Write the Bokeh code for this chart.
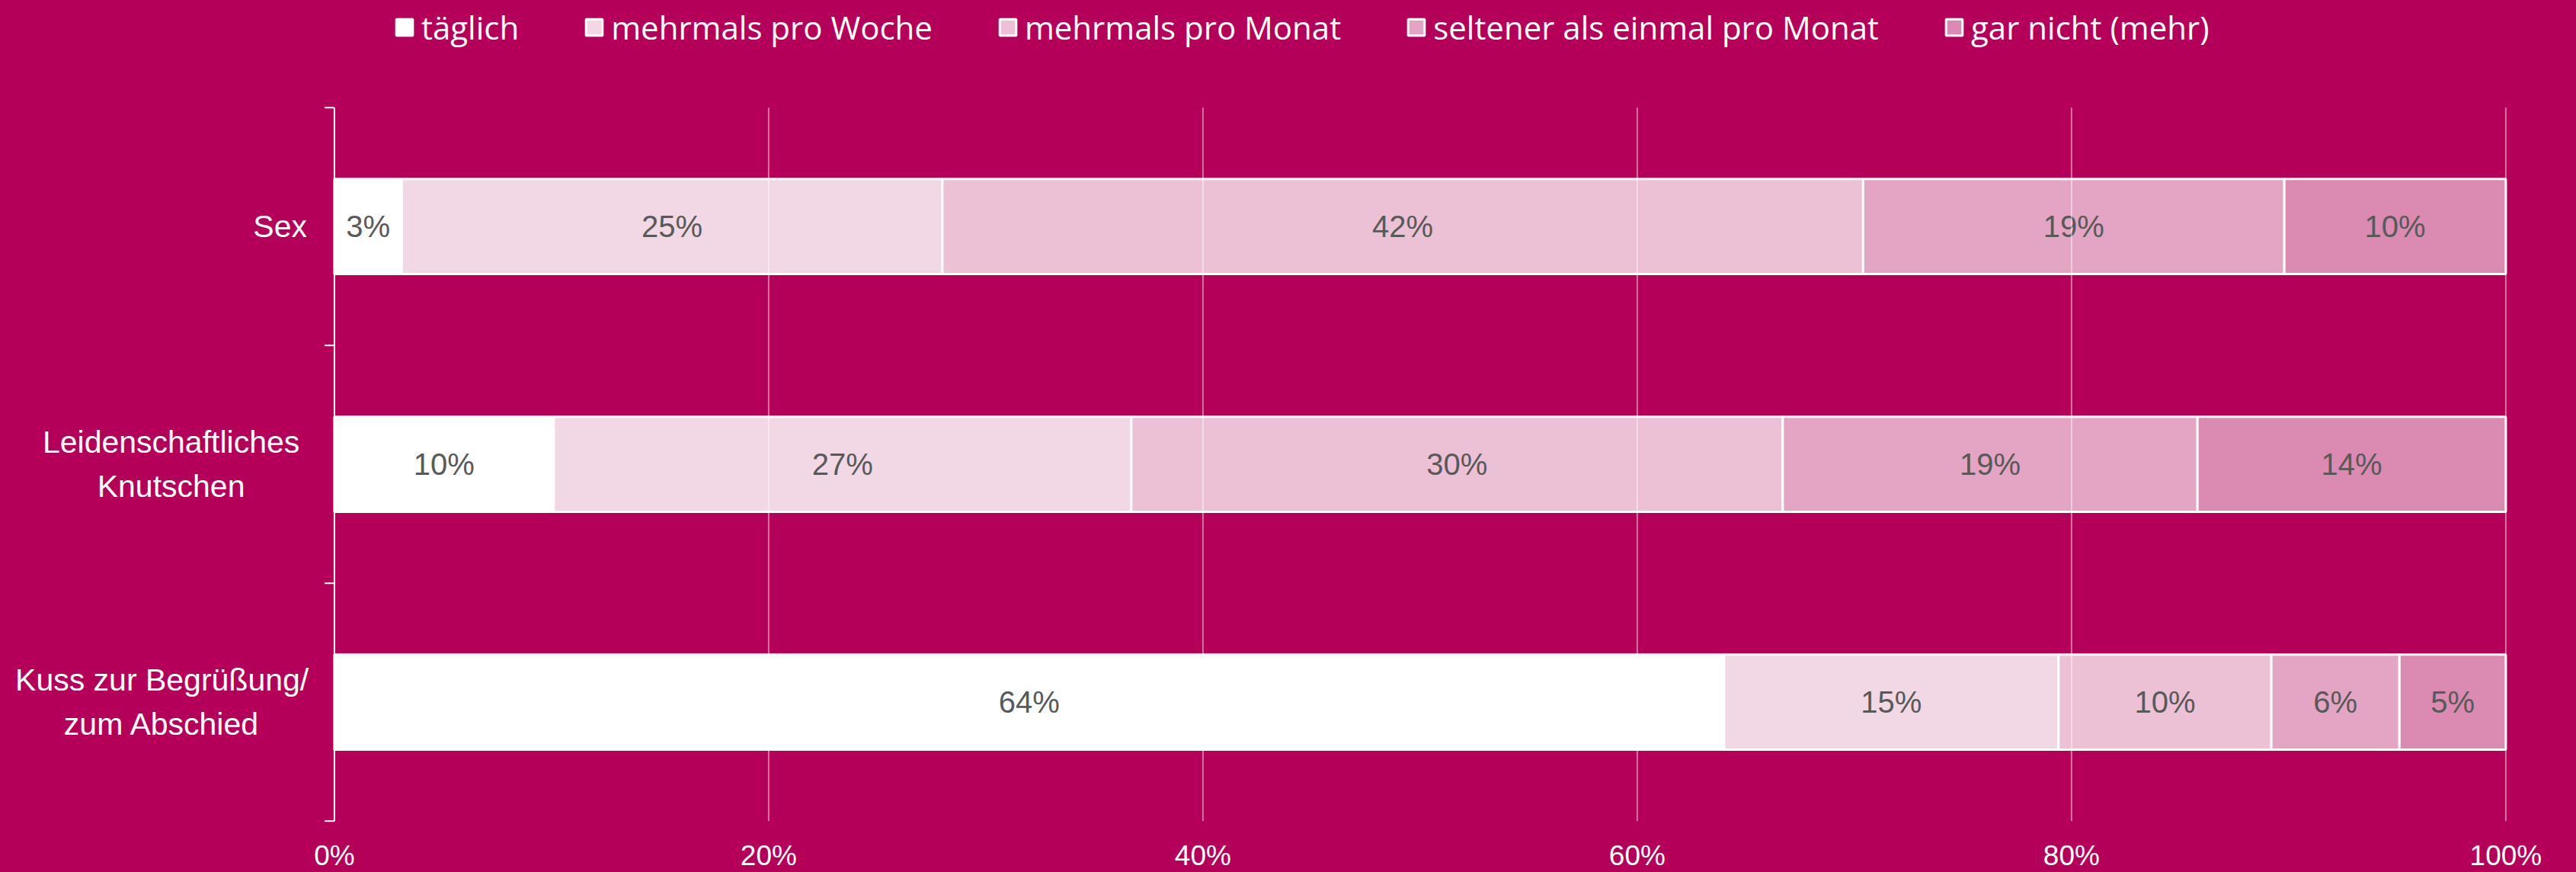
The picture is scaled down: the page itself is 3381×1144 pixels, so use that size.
from bokeh.plotting import figure
from bokeh.models import ColumnDataSource, FixedTicker, Range1d, Legend, LegendItem
from bokeh.embed import file_html
from bokeh.resources import INLINE
from bokeh.core.properties import value

# ---------------- data ----------------
categories = ["Sex", "Leidenschaftliches\nKnutschen", "Kuss zur Begrüßung/\nzum Abschied"]
series = ["täglich", "mehrmals pro Woche", "mehrmals pro Monat",
          "seltener als einmal pro Monat", "gar nicht (mehr)"]
taeglich = [3.1, 10.1, 64.0]
pro_woche = [24.9, 26.6, 15.4]
pro_monat = [42.4, 30.0, 9.8]
seltener = [19.4, 19.1, 5.9]
gar_nicht = [10.2, 14.2, 4.9]
x_ticks = [0, 20, 40, 60, 80, 100]
x_tick_labels = ["0%", "20%", "40%", "60%", "80%", "100%"]

# ---------------- style / layout ----------------
colors = ["#FFFFFF", "#F2D8E4", "#EDC1D5", "#E3A5C3", "#DB8AB1"]
BG = "#B5005A"
LABEL_FONT = "Liberation Sans"
LEGEND_FONT = "Open Sans"
W, H = 3381, 1144
PLOT_LEFT, PLOT_RIGHT, PLOT_TOP, PLOT_BOTTOM = 438.4, 3288.4, 140.7, 1076.7
TICK_LEN = 13
cat_label_x = [-2.50, -7.52, -7.94]   # label centres, in axis units

n = len(categories)
ppu_x = (PLOT_RIGHT - PLOT_LEFT) / 100.0
ppu_y = (PLOT_BOTTOM - PLOT_TOP) / n
x_range = Range1d(-PLOT_LEFT / ppu_x, 100 + (W - PLOT_RIGHT) / ppu_x)
y_range = Range1d(-(H - PLOT_BOTTOM) / ppu_y, n + PLOT_TOP / ppu_y)

p = figure(width=W, height=H, output_backend="svg", toolbar_location=None,
           x_range=x_range, y_range=y_range,
           min_border_left=0, min_border_right=0, min_border_top=0, min_border_bottom=0)
p.background_fill_color = BG
p.border_fill_color = BG
p.outline_line_color = None
p.xgrid.visible = False
p.ygrid.visible = False
p.yaxis.visible = False

ys = [n - i - 0.5 for i in range(n)]
values = [taeglich, pro_woche, pro_monat, seltener, gar_nicht]

left = [0.0] * n
renderers = []
lab_x, lab_y, lab_t = [], [], []
for name, vals, col in zip(series, values, colors):
    right = [l + v for l, v in zip(left, vals)]
    src = ColumnDataSource(dict(y=ys, left=left, right=right))
    r = p.hbar(y="y", left="left", right="right", height=0.40, source=src,
               fill_color=col, line_color="white", line_width=3)
    renderers.append((name, r))
    for l, v, y in zip(left, vals, ys):
        lab_x.append(l + v / 2)
        lab_y.append(y)
        lab_t.append(f"{round(v)}%")
    left = right

p.text(x=lab_x, y=lab_y, text=lab_t, text_align="center", text_baseline="middle",
       text_font=value(LABEL_FONT), text_font_size="40px", text_color="#595959")

# vertical grid lines (on top of bars, like the original)
grid_x = x_ticks[1:]
p.segment(x0=grid_x, y0=[0] * len(grid_x), x1=grid_x, y1=[n] * len(grid_x),
          line_color="white", line_alpha=0.45, line_width=2)

# y axis line and ticks at category boundaries
p.segment(x0=[0], y0=[0], x1=[0], y1=[n], line_color="white", line_width=2)
bounds = list(range(n + 1))
p.segment(x0=[-TICK_LEN / ppu_x] * len(bounds), y0=bounds, x1=[0] * len(bounds), y1=bounds,
          line_color="white", line_width=2)

# category labels
p.text(x=cat_label_x, y=ys, text=categories, text_align="center", text_baseline="middle",
       text_font=value(LABEL_FONT), text_font_size="41px", text_color="white",
       text_line_height=1.26)

# x axis, fixed at 0 so that it sits inside the drawing area
xa = p.xaxis[0]
xa.fixed_location = 0
xa.ticker = FixedTicker(ticks=x_ticks)
xa.major_label_overrides = {t: s for t, s in zip(x_ticks, x_tick_labels)}
xa.axis_line_color = None
xa.major_tick_line_color = None
xa.minor_tick_line_color = None
xa.major_tick_out = 0
xa.major_tick_in = 0
xa.minor_tick_out = 0
xa.minor_tick_in = 0
xa.major_label_text_color = "white"
xa.major_label_text_font = LABEL_FONT
xa.major_label_text_font_size = "37px"
xa.major_label_standoff = 25

legend = Legend(items=[LegendItem(label=nm, renderers=[r]) for nm, r in renderers],
                orientation="horizontal", location=(517, 1080),
                background_fill_alpha=0, border_line_alpha=0,
                label_text_color="white", label_text_font=LEGEND_FONT,
                label_text_font_size="42px", glyph_width=27, glyph_height=27,
                label_standoff=9, spacing=85, padding=0, margin=0)
p.add_layout(legend, "center")

html = file_html(p, INLINE)
html = html.replace("</head>", "<style>html, body { background-color: %s; }</style></head>" % BG, 1)
open("out.html", "w").write(html)
